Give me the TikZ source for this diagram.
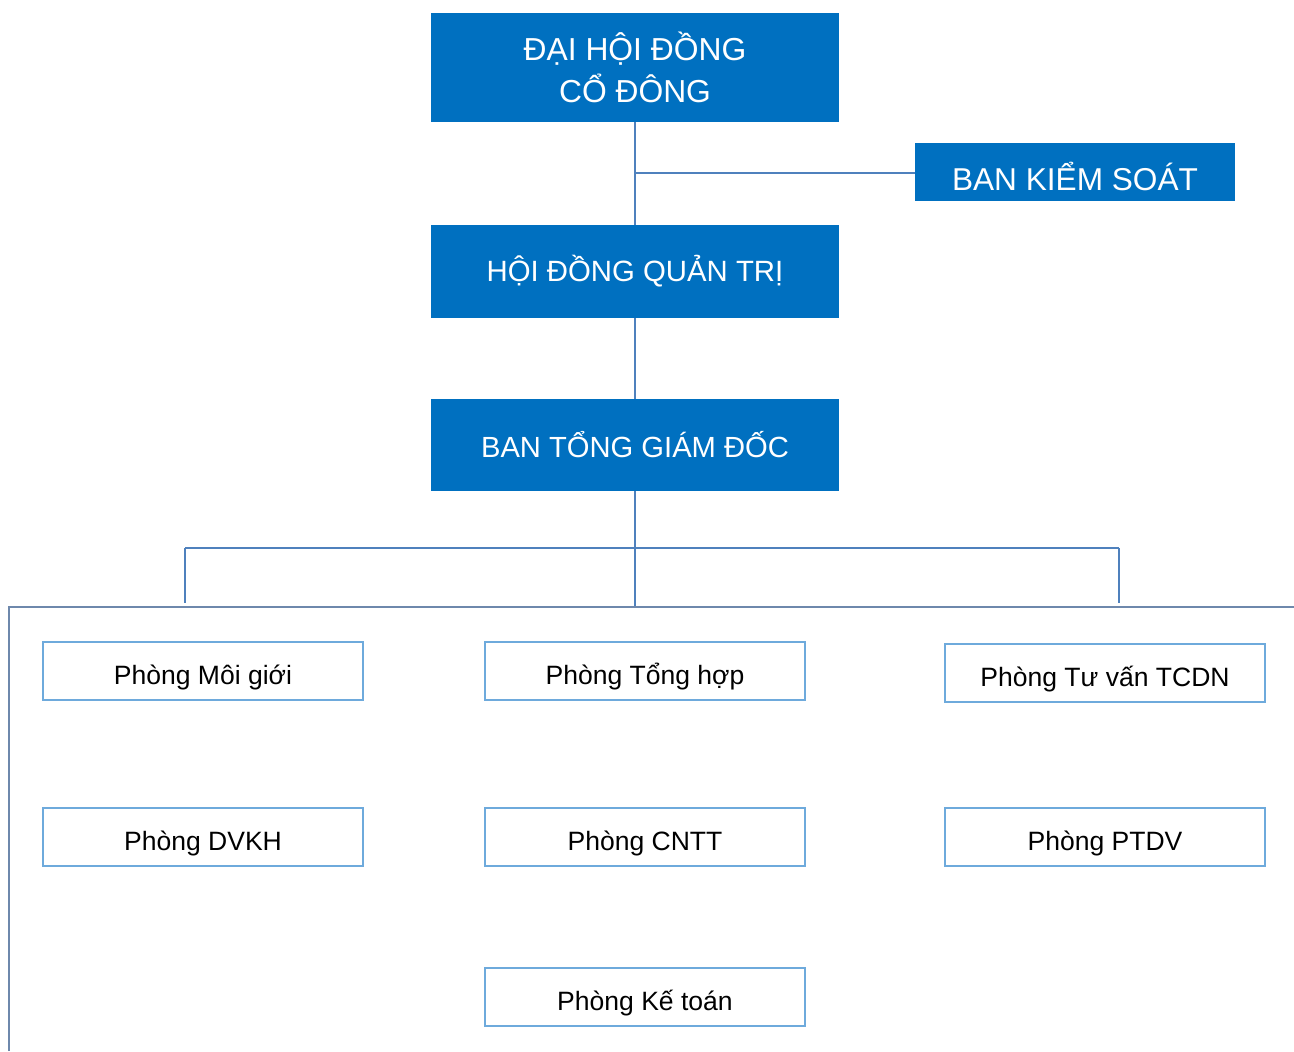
\documentclass[tikz,border=0pt]{standalone}
\usepackage{fontspec}
\setmainfont{Liberation Sans}
\definecolor{boxblue}{RGB}{0,112,192}
\definecolor{linkblue}{RGB}{79,129,189}
\definecolor{framegrey}{RGB}{110,136,172}
\definecolor{subborder}{RGB}{110,170,220}
\newcommand{\lowertext}[2]{\raisebox{-#1}[\height][\depth]{#2}}
\begin{document}
\begin{tikzpicture}[x=0.02cm,y=-0.02cm,
  bigbox/.style={rectangle, fill=boxblue, draw=none, text=white, inner sep=0pt, outer sep=0pt, align=center},
  subbox/.style={rectangle, fill=white, draw=subborder, line width=1pt, text=black, inner sep=0pt, outer sep=0pt,
     minimum width=6.4cm, minimum height=1.16cm, text height=0.6cm, text depth=0.08cm,
     font=\fontsize{15.1}{18}\selectfont},
  link/.style={draw=linkblue, line width=1.1pt},
  framel/.style={draw=framegrey, line width=1.1pt}]
\useasboundingbox (0,0) rectangle (1294,1051);

\node[bigbox, minimum width=8.16cm, minimum height=2.18cm, font=\fontsize{18.1}{24.3}\selectfont] (dhcd) at (635,67.5) {ĐẠI HỘI ĐỒNG\\CỔ ĐÔNG};
\node[bigbox, minimum width=6.4cm, minimum height=1.16cm, font=\fontsize{18}{21}\selectfont] (bks) at (1075,172) {\lowertext{0.08cm}{BAN KIỂM SOÁT}};
\node[bigbox, minimum width=8.16cm, minimum height=1.86cm, font=\fontsize{16.7}{20}\selectfont] (hdqt) at (635,271.5) {HỘI ĐỒNG QUẢN TRỊ};
\node[bigbox, minimum width=8.16cm, minimum height=1.84cm, font=\fontsize{16.6}{20}\selectfont] (btgd) at (635,445) {BAN TỔNG GIÁM ĐỐC};

\node[subbox] (mg) at (203,671) {Phòng Môi giới};
\node[subbox] (th) at (645,671) {Phòng Tổng hợp};
\node[subbox] (tv) at (1105,673) {Phòng Tư vấn TCDN};
\node[subbox] (dv) at (203,837) {Phòng DVKH};
\node[subbox] (it) at (645,837) {Phòng CNTT};
\node[subbox] (pt) at (1105,837) {Phòng PTDV};
\node[subbox] (kt) at (645,997) {Phòng Kế toán};

\coordinate (busL) at (185,548);
\coordinate (busR) at (1119,548);
\coordinate (dropL) at (185,603);
\coordinate (dropR) at (1119,603);
\coordinate (frC) at (635,607);
\coordinate (frTL) at (9,607);
\coordinate (frBL) at (9,1051);
\coordinate (frTR) at (1294,607);

\draw[link] (dhcd.south) -- (hdqt.north);
\draw[link] (bks.west |- 0,173) -- (635,173);
\draw[link] (hdqt.south) -- (btgd.north);
\draw[link] (btgd.south) -- (frC);
\draw[link] (busL) -- (busR);
\draw[link] (busL) -- (dropL);
\draw[link] (busR) -- (dropR);
\draw[framel] (frBL) -- (frTL) -- (frTR);
\end{tikzpicture}
\end{document}
